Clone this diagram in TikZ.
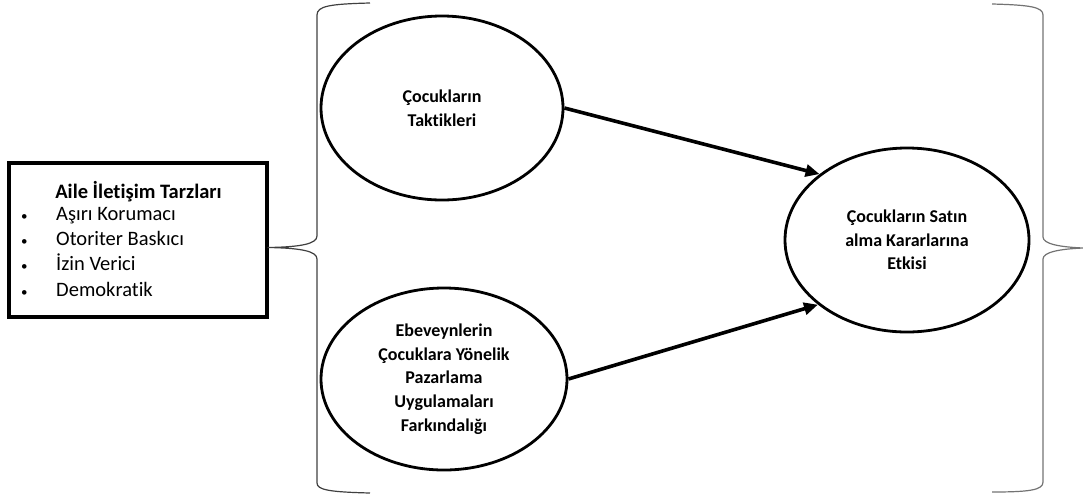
\documentclass[tikz,border=0pt]{standalone}
\usepackage{fontspec}
\setmainfont{Carlito}[Ligatures=NoCommon]
\usetikzlibrary{shapes.geometric,arrows.meta}

\newcommand{\dotmark}{{\fontsize{13}{13}\selectfont •}}

\begin{document}
\begin{tikzpicture}[x=1pt,y=-1pt,
  oval/.style={draw, ellipse, line width=2.8pt, inner sep=0pt, align=center,
    font=\fontsize{18}{23.7}\selectfont\bfseries},
  framebox/.style={draw, rectangle, line width=3.3pt, inner sep=0pt},
  link/.style={line width=3.6pt, -{Triangle[length=14pt,width=12pt]}},
  bracket/.style={line width=1.2pt, draw=black!75, line join=round}
]
\useasboundingbox (0,0) rectangle (1083,496);

% family communication styles box
\node[framebox, minimum width=258pt, minimum height=154pt] (fam) at (138,240) {};
\node[font=\fontsize{20.5}{25.3}\selectfont\bfseries, inner sep=0pt] (famtitle) at (138.5,192) {Aile İletişim Tarzları};
\node[anchor=west, inner sep=0pt, font=\fontsize{20.5}{25.3}\selectfont] (famlist) at (21,253)
  {\begin{tabular}{@{}p{35pt}@{}l@{}}
   \dotmark & Aşırı Korumacı\\
   \dotmark & Otoriter Baskıcı\\
   \dotmark & İzin Verici\\
   \dotmark & Demokratik
   \end{tabular}};

% ellipses
\node[oval, minimum width=242pt, minimum height=184pt] (tac) at (442,108) {Çocukların\\Taktikleri};
\node[oval, minimum width=246pt, minimum height=182pt] (aware) at (444,379)
  {Ebeveynlerin\\Çocuklara Yönelik\\Pazarlama\\Uygulamaları\\Farkındalığı};
\node[oval, minimum width=244pt, minimum height=184pt] (eff) at (907,240)
  {Çocukların Satın\\alma Kararlarına\\Etkisi};

% arrows
\draw[link] (tac.east) -- (eff.143);
\draw[link] (aware.east) -- (eff.216);

% left brace
\draw[bracket] (370,3) .. controls (330,4) and (317,6) .. (317,15)
  -- (317,236) .. controls (317,244) and (300,247) .. (268,247.5)
  .. controls (300,248) and (317,251) .. (317,259)
  -- (317,483) .. controls (317,490) and (330,492) .. (370,493);

% right brace
\draw[bracket, draw=black!55] (992,4) .. controls (1030,5) and (1043,7) .. (1043,15)
  -- (1043,237) .. controls (1043,244) and (1060,247) .. (1083,248)
  .. controls (1060,249) and (1043,252) .. (1043,259)
  -- (1043,482) .. controls (1043,490) and (1030,492) .. (992,492);
\end{tikzpicture}
\end{document}
